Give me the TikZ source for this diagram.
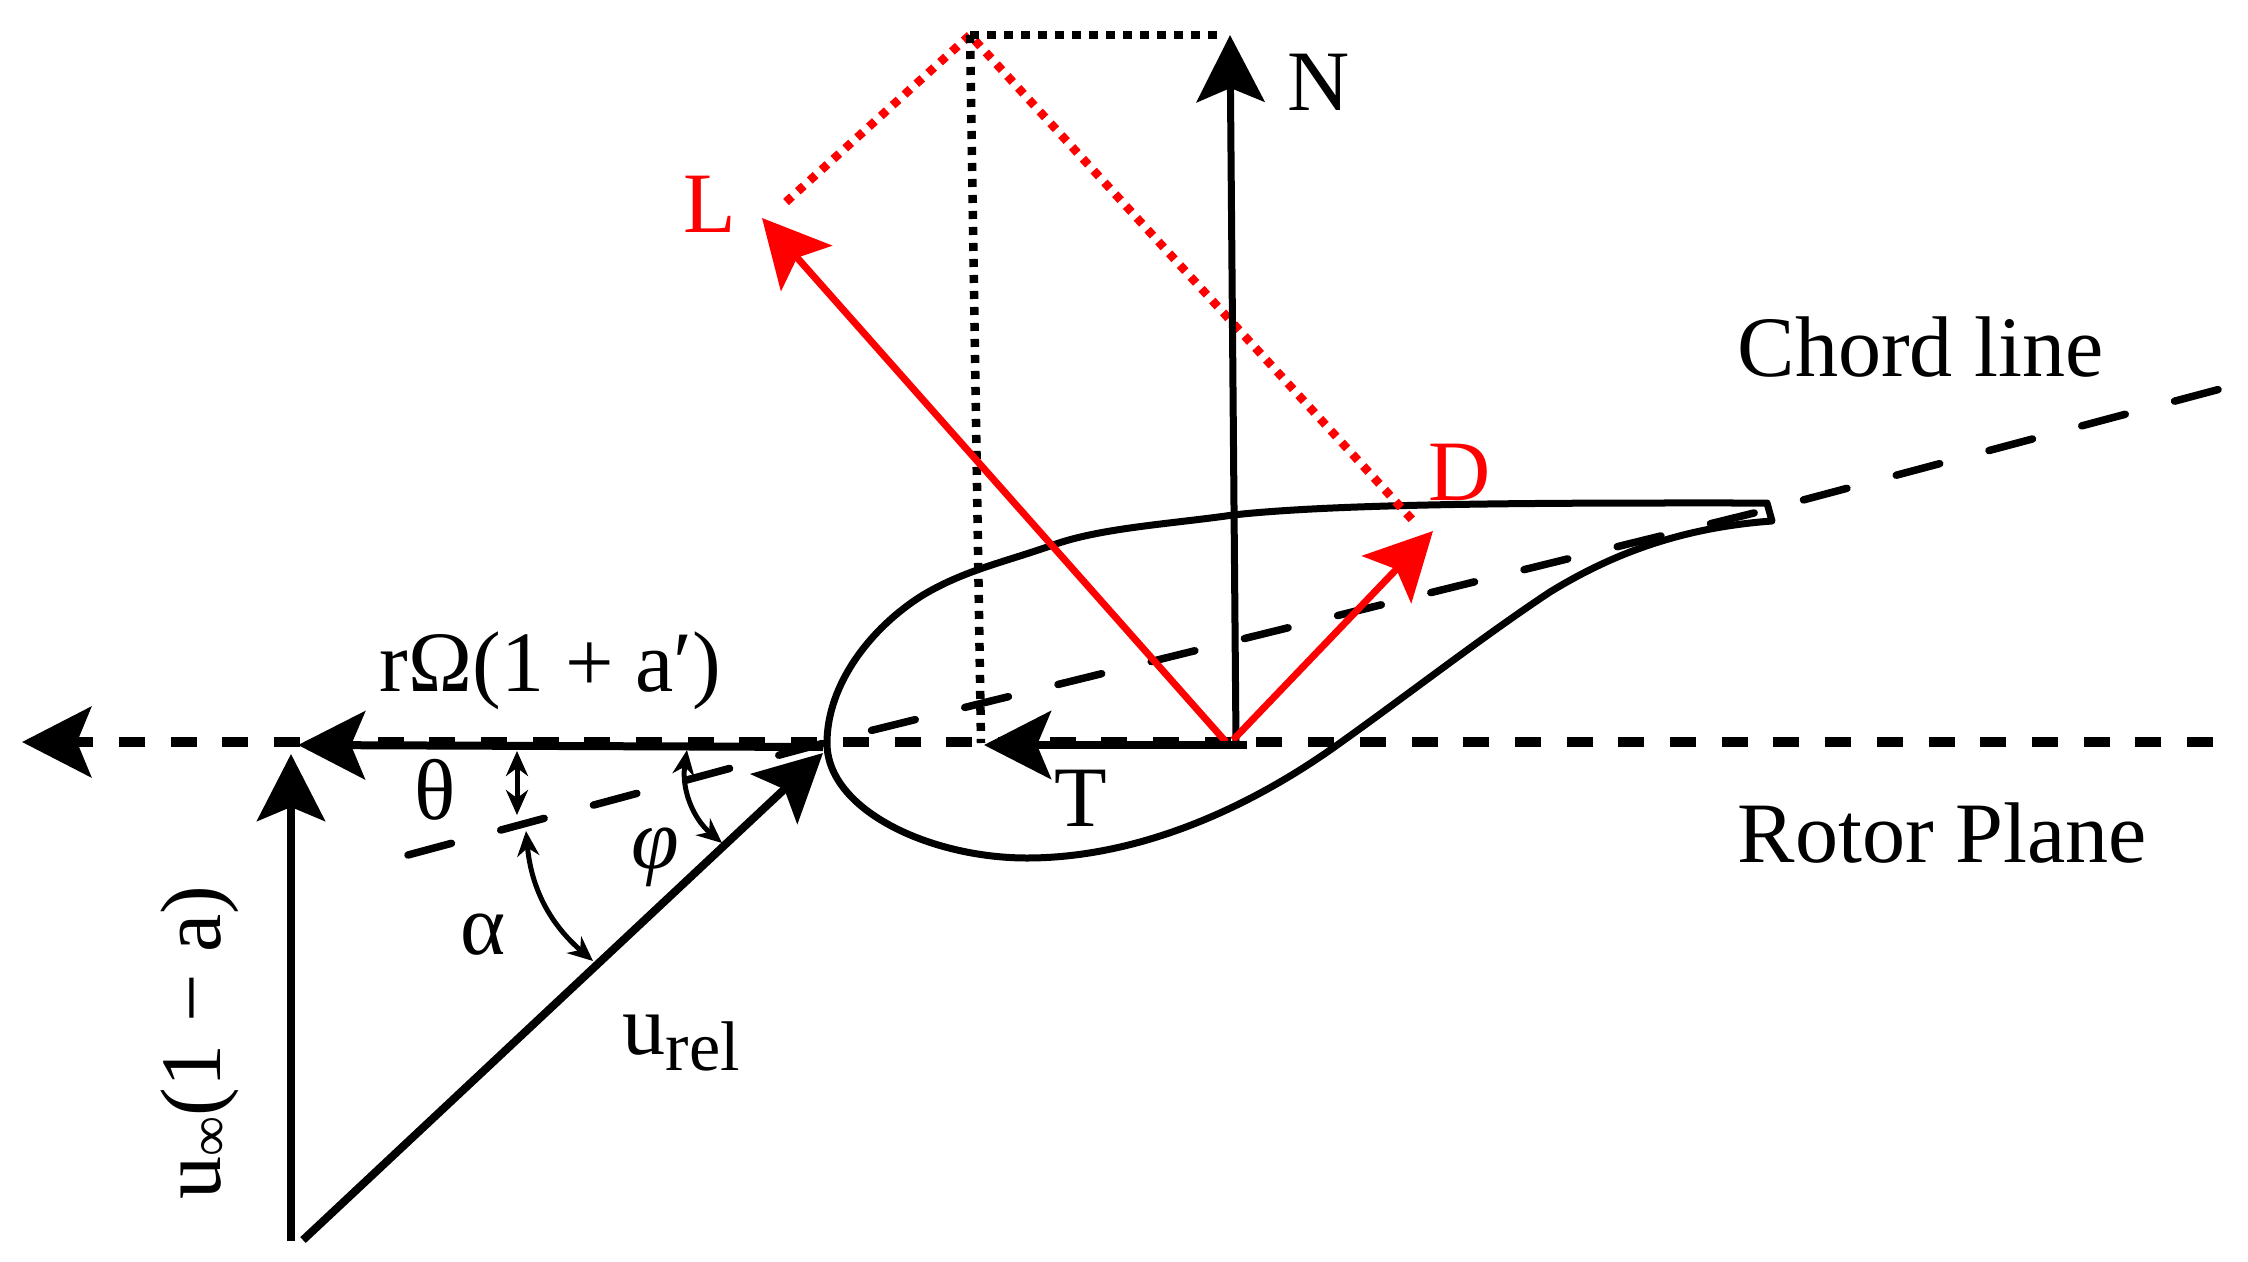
\documentclass[tikz,border=0pt]{standalone}
\usepackage{fontspec}
\setmainfont{Liberation Serif}
\usepackage{tikz}
\usetikzlibrary{arrows.meta}

\begin{document}
\begin{tikzpicture}[
        every node/.style = {inner sep=0pt, font=\fontsize{24.5}{28}\selectfont},
        vec/.style = {-{Stealth[length=.67cm,width=.68cm,inset=.14cm]}, line width=#1},
        angle/.style = {{Stealth[length=.25cm,width=.22cm]}-{Stealth[length=.25cm,width=.22cm]}, line width=.05cm},
        rotor/.style = {line width=.1cm, dash pattern=on .26cm off .257cm},
        chord/.style = {line width=.075cm, line cap=round, dash pattern=on .45cm off .51cm},
        dots/.style = {line width=.085cm, dash pattern=on .08cm off .08cm},
        foil/.style = {line width=.07cm, line join=round},
        ]
        \useasboundingbox (0,0) rectangle (22.48,-12.61);
        \coordinate (Nbase) at (12.36,-7.42);
        \coordinate (Lbase) at (12.26,-7.42);
        \coordinate (Dbase) at (12.33,-7.40);
        \coordinate (Tbase) at (12.47,-7.45);
        \coordinate (nose) at (8.23,-7.47);
        \coordinate (top) at (9.70,-.35);
        \coordinate (base) at (2.91,-12.41);
        \coordinate (rl) at (22.13,-7.42);
        \coordinate (rr) at (.22,-7.42);
        \coordinate (cl) at (4.08,-8.55);
        \coordinate (c1) at (8.65,-7.32);
        \coordinate (c2) at (17.58,-5.12);
        \coordinate (cr) at (22.24,-3.88);
        \coordinate (Ntip) at (12.30,-.35);
        \coordinate (Ltip) at (7.62,-2.18);
        \coordinate (Dtip) at (14.33,-5.31);
        \coordinate (Ttip) at (9.84,-7.45);
        \coordinate (Rtip) at (2.98,-7.45);
        \coordinate (Utip) at (2.91,-7.54);
        \coordinate (Wtip) at (8.23,-7.53);

        % rotor plane and chord line
        \draw[rotor, -{Stealth[length=.69cm,width=.7cm,inset=.14cm]}] (rl) -- (rr);
        \draw[chord] (cl) -- (c1) -- (c2) -- (cr);

        % blade
        \draw[foil] (17.67,-5.03) .. controls (15.9,-5.03) and (13.5,-5.02) .. (12.33,-5.15)
            .. controls (11.7,-5.24) and (11.0,-5.28) .. (10.53,-5.45)
            .. controls (10.05,-5.62) and (9.65,-5.70) .. (9.23,-5.95)
            .. controls (8.7,-6.28) and (8.27,-6.85) .. (8.27,-7.43)
            .. controls (8.27,-8.1) and (9.3,-8.58) .. (10.27,-8.58)
            .. controls (11.3,-8.58) and (12.4,-8.15) .. (13.40,-7.43)
            .. controls (14.1,-6.93) and (14.85,-6.35) .. (15.50,-5.92)
            .. controls (16.2,-5.49) and (16.9,-5.27) .. (17.72,-5.21) -- cycle;

        % projections
        \draw[dots, red] (7.86,-2.02) -- (top) -- (14.17,-5.25);
        \draw[dots, dash pattern=on .09cm off .08cm] (top) -- (12.19,-.35);
        \draw[dots] (top) -- (9.81,-7.43);

        % force vectors
        \draw[vec=.07cm] (Nbase) -- (Ntip);
        \draw[vec=.07cm, red] (Lbase) -- (Ltip);
        \draw[vec=.07cm, red] (Dbase) -- (Dtip);
        \draw[vec=.08cm] (Tbase) -- (Ttip);

        % velocity triangle
        \draw[vec=.08cm] (nose) -- (Rtip);
        \draw[vec=.08cm] (base) -- (Utip);
        \draw[vec=.08cm] (3.03,-12.40) -- (Wtip);

        % angles
        \coordinate (th1) at (5.17,-7.51);
        \coordinate (th2) at (5.17,-8.15);
        \coordinate (ph1) at (6.87,-7.50);
        \coordinate (ph2) at (7.22,-8.43);
        \coordinate (al1) at (5.26,-8.31);
        \coordinate (al2) at (5.93,-9.61);
        \draw[angle] (th1) -- (th2);
        \draw[angle] (ph1) to[bend right=29] (ph2);
        \draw[angle] (al1) to[bend right=22] (al2);

        % labels
        \node[anchor=base west] (Nlab) at (12.87,-1.10) {N};
        \node[anchor=base west, red] (Llab) at (6.83,-2.32) {L};
        \node[anchor=base west, red] (Dlab) at (14.28,-5.00) {D};
        \node[anchor=base west] (Tlab) at (10.54,-8.26) {T};
        \node[anchor=base west] (chordlab) at (17.37,-3.76) {Chord line};
        \node[anchor=base west] (rotorlab) at (17.37,-8.62) {Rotor Plane};
        \node[anchor=base west] (rlab) at (3.79,-6.91) {rΩ(1 + a′)};
        \node[anchor=base west] (thlab) at (4.14,-8.19) {θ};
        \node[anchor=base west] (phlab) at (6.31,-8.68) {\itshape φ};
        \node[anchor=base west] (allab) at (4.60,-9.54) {α};
        \node[anchor=base west] (urel) at (6.22,-10.54) {u\raisebox{-.16cm}{\fontsize{20}{24}\selectfont rel}};
        \node[anchor=base west, rotate=90] (uinf) at (2.20,-12.00) {u\raisebox{-.08cm}{\fontsize{16}{20}\selectfont ∞}(1 − a)};
    \end{tikzpicture}
\end{document}
